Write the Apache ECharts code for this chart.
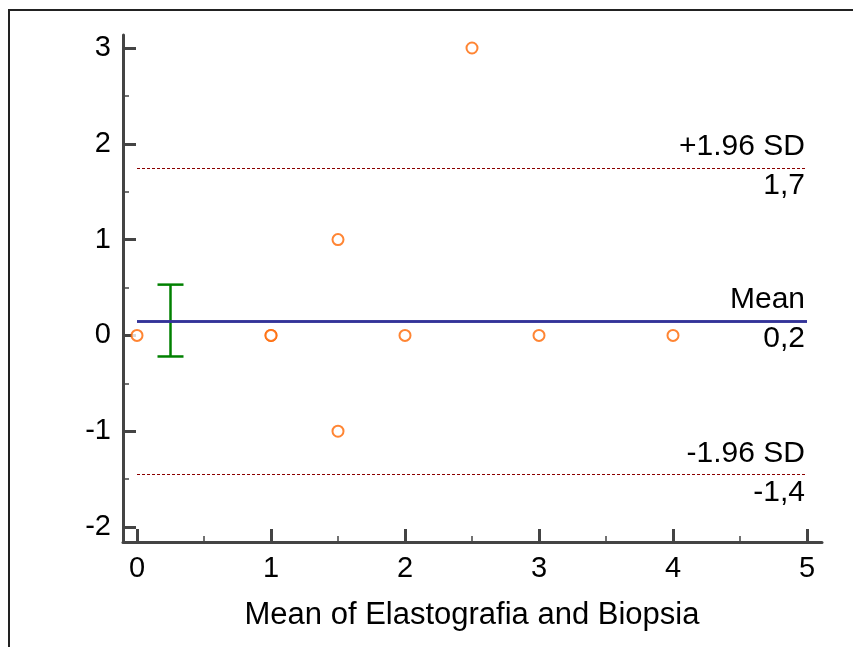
<!DOCTYPE html>
<html>
<head>
<meta charset="utf-8">
<script src="https://cdn.jsdelivr.net/npm/echarts@6/dist/echarts.min.js"></script>
<style>
  html, body { margin: 0; padding: 0; background: #fff; }
  #frame { position: absolute; left: 8px; top: 9px; width: 900px; height: 700px;
           border-top: 2px solid #222; border-left: 2px solid #222; }
  #main { position: absolute; left: 0; top: 0; width: 853px; height: 647px; }
</style>
</head>
<body>
<div id="frame"></div>
<div id="main"></div>
<script>
// Bland-Altman: Elastografia vs Biopsia
const meanX = [0, 1, 1, 1.5, 1.5, 2, 2.5, 3, 4];
const diffY = [0, 0, 0, 1, -1, 0, 3, 0, 0];

const meanDiff = 0.15;
const upperLoA = 1.745;
const lowerLoA = -1.445;
const levelLabels = ['+1.96 SD', 'Mean', '-1.96 SD'];
const levelValues = ['1,7', '0,2', '-1,4'];

// 95% CI of the mean difference: [x, low, high]
const meanCI = [[0.25, -0.22, 0.53]];

const xTicks = [0, 1, 2, 3, 4, 5];
const yTicks = [-2, -1, 0, 1, 2, 3];

const font = "'Liberation Sans', Arial, sans-serif";
const axisColor = '#444';

let chart = echarts.init(document.getElementById('main'), null, { renderer: 'canvas' });

function levelLine(y, top, bottom, style) {
  return [
    { yAxis: y, lineStyle: style, label: { show: true, position: 'insideEndTop', formatter: top, distance: [2, 6] } },
    { yAxis: y, lineStyle: style, label: { show: true, position: 'insideEndBottom', formatter: bottom, distance: [2, 3] } }
  ];
}

const dashStyle = { color: '#8b0000', width: 1, type: [3, 2] };
const meanStyle = { color: '#333399', width: 2.5, type: 'solid' };

chart.setOption({
  animation: false,
  textStyle: { fontFamily: font },
  grid: [
    { left: 137, right: 46, top: 48, bottom: 120 },
    { left: 123, right: 31, top: 35, bottom: 105 }
  ],
  xAxis: [
    {
      type: 'value', gridIndex: 0, min: xTicks[0], max: xTicks[xTicks.length - 1], interval: 1,
      offset: 15,
      name: 'Mean of Elastografia and Biopsia', nameLocation: 'middle', nameGap: 58,
      nameTextStyle: { fontSize: 31, color: '#000', fontFamily: font },
      axisLine: { show: false, onZero: false },
      axisTick: { show: true, inside: true, length: 13, lineStyle: { color: axisColor, width: 3 } },
      minorTick: { show: true, splitNumber: 2, length: 6, lineStyle: { color: axisColor, width: 1.5 } },
      axisLabel: { fontSize: 29, color: '#000', margin: 12, fontFamily: font },
      splitLine: { show: false }
    },
    {
      type: 'value', gridIndex: 1, min: 0, max: 1,
      axisLine: { show: true, onZero: false, lineStyle: { color: axisColor, width: 3 } },
      axisTick: { show: false }, axisLabel: { show: false }, splitLine: { show: false }
    }
  ],
  yAxis: [
    {
      type: 'value', gridIndex: 0, min: yTicks[0], max: yTicks[yTicks.length - 1], interval: 1,
      offset: 14,
      axisLine: { show: false, onZero: false },
      axisTick: { show: true, inside: true, length: 13, lineStyle: { color: axisColor, width: 3 } },
      minorTick: { show: true, splitNumber: 2, length: 6, lineStyle: { color: axisColor, width: 1.5 } },
      axisLabel: { fontSize: 29, color: '#000', margin: 12, fontFamily: font },
      splitLine: { show: false }
    },
    {
      type: 'value', gridIndex: 1, min: 0, max: 1,
      axisLine: { show: true, onZero: false, lineStyle: { color: axisColor, width: 3 } },
      axisTick: { show: false }, axisLabel: { show: false }, splitLine: { show: false }
    }
  ],
  series: [
    {
      type: 'scatter',
      xAxisIndex: 0, yAxisIndex: 0,
      data: meanX.map((x, i) => [x, diffY[i]]),
      symbol: 'emptyCircle',
      symbolSize: 11,
      itemStyle: { color: '#ff6600', borderColor: '#ff6600', borderWidth: 1.8 },
      z: 5,
      markLine: {
        silent: true,
        symbol: 'none',
        label: { fontSize: 30, color: '#000', fontFamily: font },
        data: [].concat(
          levelLine(upperLoA, levelLabels[0], levelValues[0], dashStyle),
          levelLine(meanDiff, levelLabels[1], levelValues[1], meanStyle),
          levelLine(lowerLoA, levelLabels[2], levelValues[2], dashStyle)
        )
      }
    },
    {
      type: 'custom',
      xAxisIndex: 0, yAxisIndex: 0,
      data: meanCI,
      z: 4,
      renderItem: function (params, api) {
        const lo = api.coord([api.value(0), api.value(1)]);
        const hi = api.coord([api.value(0), api.value(2)]);
        const half = 13;
        const style = { stroke: '#008000', lineWidth: 2.5 };
        return {
          type: 'group',
          children: [
            { type: 'line', shape: { x1: lo[0], y1: lo[1], x2: hi[0], y2: hi[1] }, style: style },
            { type: 'line', shape: { x1: lo[0] - half, y1: lo[1], x2: lo[0] + half, y2: lo[1] }, style: style },
            { type: 'line', shape: { x1: hi[0] - half, y1: hi[1], x2: hi[0] + half, y2: hi[1] }, style: style }
          ]
        };
      }
    }
  ]
});
</script>
</body>
</html>
